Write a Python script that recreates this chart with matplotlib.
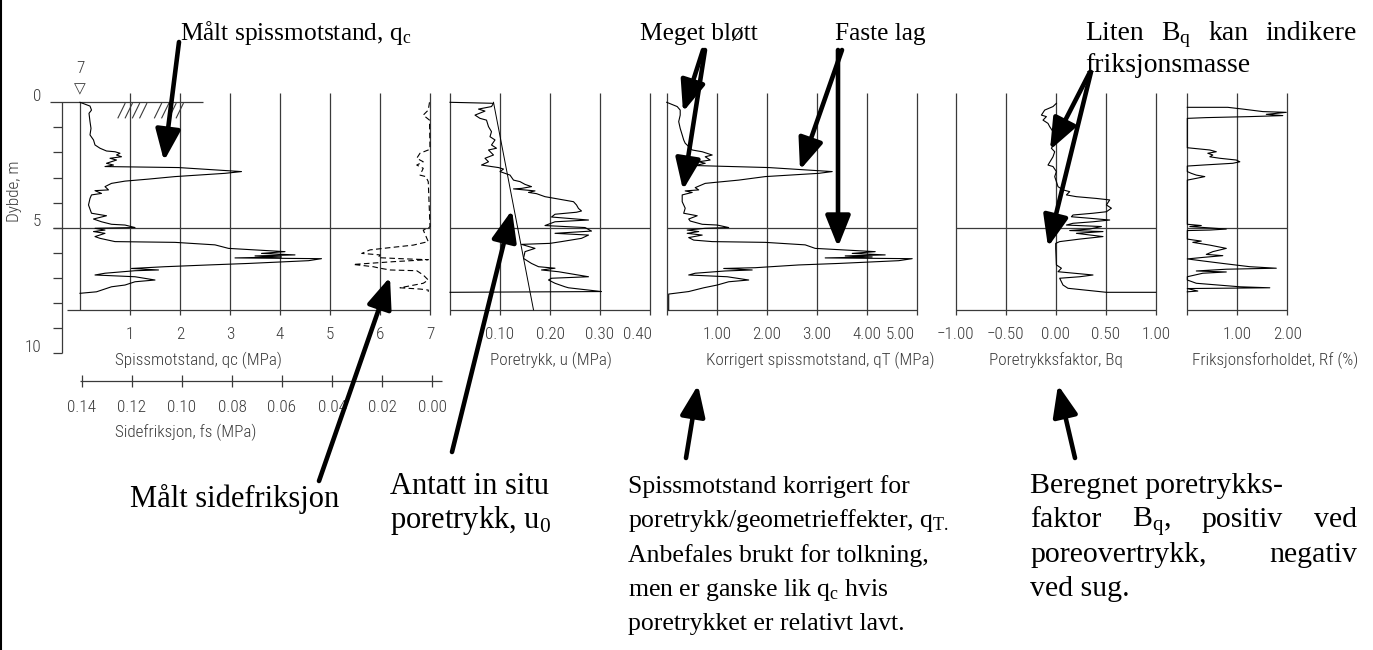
import matplotlib
matplotlib.use("Agg")
import matplotlib.pyplot as plt
from matplotlib import font_manager

# ---------------- data ----------------
QC_DEPTH = [0.00, 0.15, 0.31, 0.44, 0.77, 1.04, 1.30, 1.50, 1.70, 1.83, 1.94, 1.97, 2.03, 2.10, 2.17,
            2.23, 2.30, 2.43, 2.50, 2.56, 2.60, 2.76, 2.83, 2.96, 3.06, 3.14, 3.23, 3.36, 3.49, 3.52,
            3.63, 3.69, 3.83, 4.09, 4.42, 4.52, 4.65, 4.76, 4.86, 4.89, 4.99, 5.02, 5.09, 5.15, 5.22,
            5.35, 5.42, 5.55, 5.58, 5.68, 5.82, 5.95, 6.02, 6.08, 6.12, 6.16, 6.20, 6.23, 6.31, 6.42,
            6.48, 6.55, 6.62, 6.68, 6.71, 6.81, 6.88, 6.95, 7.08, 7.15, 7.28, 7.35, 7.55, 7.61]
QC_MPA = [0.00, 0.20, 0.23, 0.18, 0.20, 0.22, 0.20, 0.27, 0.30, 0.40, 0.53, 0.70, 0.80, 0.73, 0.83,
          0.60, 0.73, 0.53, 0.67, 0.50, 1.97, 3.23, 2.90, 1.90, 1.37, 0.90, 0.63, 0.50, 0.57, 0.30,
          0.43, 0.23, 0.20, 0.17, 0.23, 0.53, 0.27, 0.43, 0.63, 0.90, 1.10, 0.30, 0.50, 0.27, 0.50,
          0.30, 0.40, 0.70, 1.90, 2.70, 2.97, 4.10, 3.63, 4.30, 3.50, 4.03, 3.10, 4.83, 4.57, 3.37,
          2.57, 1.70, 1.03, 1.57, 1.10, 0.50, 0.30, 1.10, 1.50, 1.10, 0.90, 0.63, 0.33, 0.00]

FS_DEPTH = [0.00, 0.31, 0.51, 0.71, 1.85, 1.90, 2.03, 2.23, 2.37, 2.50, 2.63, 2.90, 2.96, 3.16, 4.95,
            5.02, 5.09, 5.55, 5.69, 5.79, 5.88, 6.02, 6.08, 6.19, 6.24, 6.27, 6.35, 6.46, 6.55, 6.61,
            6.68, 6.71, 6.88, 7.08, 7.21, 7.39, 7.44, 7.48, 7.55]
FS_MPA = [0.0010, 0.0015, 0.0035, 0.0010, 0.0008, 0.0015, 0.0048, 0.0061, 0.0035, 0.0061, 0.0035,
          0.0048, 0.0025, 0.0015, 0.0008, 0.0015, 0.0035, 0.0015, 0.0075, 0.0168, 0.0248, 0.0281,
          0.0208, 0.0215, 0.0101, 0.0015, 0.0155, 0.0315, 0.0235, 0.0208, 0.0168, 0.0061, 0.0035,
          0.0015, 0.0035, 0.0128, 0.0048, 0.0015, 0.0015]

U_DEPTH = [0.00, 0.04, 0.17, 0.27, 0.35, 0.51, 0.64, 0.71, 0.97, 1.17, 1.37, 1.50, 1.70, 1.83, 1.90,
           2.10, 2.23, 2.37, 2.50, 2.56, 2.60, 2.66, 2.76, 2.83, 2.90, 3.10, 3.16, 3.27, 3.36, 3.43,
           3.45, 3.53, 3.59, 3.64, 3.76, 3.83, 3.96, 4.09, 4.23, 4.33, 4.38, 4.46, 4.57, 4.69, 4.76,
           4.91, 4.99, 5.13, 5.22, 5.29, 5.42, 5.55, 5.62, 5.66, 5.82, 5.95, 6.22, 6.42, 6.55, 6.61,
           6.68, 6.75, 6.95, 7.01, 7.08, 7.21, 7.35, 7.39, 7.54, 7.57]
U_MPA = [0.000, 0.087, 0.083, 0.057, 0.070, 0.050, 0.060, 0.073, 0.077, 0.083, 0.080, 0.090, 0.083,
         0.093, 0.077, 0.087, 0.070, 0.077, 0.063, 0.083, 0.097, 0.107, 0.100, 0.110, 0.120, 0.127,
         0.140, 0.150, 0.163, 0.143, 0.127, 0.170, 0.157, 0.173, 0.190, 0.210, 0.247, 0.253, 0.257,
         0.263, 0.253, 0.210, 0.203, 0.277, 0.210, 0.190, 0.270, 0.283, 0.210, 0.277, 0.263, 0.223,
         0.200, 0.143, 0.170, 0.150, 0.147, 0.163, 0.177, 0.210, 0.183, 0.217, 0.277, 0.203, 0.197,
         0.210, 0.230, 0.237, 0.303, 0.000]

U0_DEPTH = [0.00, 8.27]
U0_MPA = [0.087, 0.167]

QT_DEPTH = [0.00, 0.17, 0.31, 0.51, 0.77, 1.04, 1.30, 1.50, 1.63, 1.90, 1.97, 2.10, 2.17, 2.30, 2.37,
            2.43, 2.52, 2.60, 2.76, 2.83, 2.96, 3.10, 3.19, 3.23, 3.40, 3.49, 3.53, 3.59, 3.69, 3.96,
            4.22, 4.42, 4.52, 4.65, 4.73, 4.86, 4.89, 4.99, 5.02, 5.09, 5.15, 5.22, 5.29, 5.39, 5.49,
            5.55, 5.58, 5.68, 5.82, 5.95, 6.02, 6.08, 6.12, 6.16, 6.20, 6.23, 6.31, 6.42, 6.48, 6.59,
            6.62, 6.68, 6.72, 6.81, 6.88, 6.95, 7.08, 7.15, 7.28, 7.39, 7.54, 7.64, 8.27]
QT_MPA = [0.00, 0.21, 0.27, 0.27, 0.24, 0.27, 0.31, 0.34, 0.37, 0.51, 0.71, 0.91, 0.77, 0.87, 0.64,
          0.77, 0.57, 2.04, 3.31, 3.04, 1.97, 1.44, 0.97, 0.77, 0.57, 0.64, 0.37, 0.51, 0.31, 0.31,
          0.37, 0.34, 0.61, 0.44, 0.47, 0.71, 1.01, 1.24, 0.77, 0.41, 0.64, 0.41, 0.71, 0.44, 0.54,
          0.91, 1.97, 2.77, 2.97, 4.17, 3.71, 4.37, 3.57, 4.11, 3.17, 4.91, 4.64, 3.44, 2.64, 1.77,
          1.14, 1.71, 1.17, 0.57, 0.44, 1.21, 1.64, 1.24, 1.01, 0.74, 0.44, 0.04, 0.04]

BQ_DEPTH = [0.04, 0.17, 0.31, 0.51, 0.57, 0.71, 0.84, 0.97, 1.17, 1.44, 1.63, 1.83, 1.97, 2.17, 2.50,
            2.56, 2.76, 2.96, 3.16, 3.36, 3.49, 3.56, 3.69, 3.76, 3.83, 3.89, 4.09, 4.22, 4.36, 4.42,
            4.49, 4.56, 4.62, 4.69, 4.76, 4.82, 4.89, 4.95, 5.05, 5.11, 5.15, 5.22, 5.35, 5.45, 5.55,
            5.62, 5.82, 6.48, 6.61, 6.75, 6.88, 6.95, 7.01, 7.28, 7.41, 7.57, 7.57]
BQ = [0.007, -0.027, -0.110, -0.143, -0.093, -0.127, -0.077, -0.060, -0.027, -0.027, -0.010, -0.043,
      -0.010, -0.027, -0.077, -0.027, 0.007, -0.010, 0.007, 0.023, 0.073, 0.140, 0.107, 0.207, 0.407,
      0.540, 0.507, 0.557, 0.507, 0.373, 0.173, 0.157, 0.340, 0.540, 0.373, 0.173, 0.107, 0.457,
      0.340, 0.140, 0.473, 0.207, 0.473, 0.240, 0.040, 0.000, 0.000, 0.007, 0.057, 0.023, 0.373,
      0.240, 0.040, 0.073, 0.123, 0.507, 1.000]

RF_DEPTH = [0.20, 0.20, 0.27, 0.37, 0.40, 0.48, 0.53, 0.57, 0.61, 0.64, 1.81, 1.90, 1.97, 2.03, 2.10,
            2.17, 2.23, 2.30, 2.37, 2.43, 2.50, 2.54, 2.76, 2.83, 2.90, 2.96, 3.03, 3.10, 4.86, 4.91,
            4.95, 5.05, 5.09, 5.11, 5.45, 5.53, 5.58, 5.69, 5.82, 5.95, 6.06, 6.11, 6.18, 6.24, 6.32,
            6.42, 6.55, 6.61, 6.65, 6.72, 6.76, 6.81, 6.95, 7.08, 7.21, 7.35, 7.39, 7.41, 7.42, 7.52,
            7.55]
RF_PCT = [0.00, 0.81, 1.11, 1.51, 1.98, 1.58, 1.91, 1.25, 0.38, 0.00, 0.00, 0.45, 0.58, 0.41, 0.51,
          0.45, 0.65, 0.98, 1.05, 0.91, 0.31, 0.00, 0.00, 0.08, 0.18, 0.35, 0.18, 0.00, 0.00, 0.28,
          0.05, 0.78, 0.45, 0.00, 0.00, 0.28, 0.11, 0.45, 0.78, 0.51, 0.38, 0.71, 0.31, 0.00, 0.31,
          0.71, 1.25, 1.78, 0.78, 0.18, 0.78, 0.31, 0.00, 0.00, 0.18, 1.05, 1.65, 0.58, 0.00, 0.21,
          0.00]

QC_TICKS = [1, 2, 3, 4, 5, 6, 7]
FS_TICKS = [0.14, 0.12, 0.10, 0.08, 0.06, 0.04, 0.02, 0.00]
U_TICKS = [0.10, 0.20, 0.30, 0.40]
QT_TICKS = [1.00, 2.00, 3.00, 4.00, 5.00]
BQ_TICKS = [-1.00, -0.50, 0.00, 0.50, 1.00]
RF_TICKS = [1.00, 2.00]
DEPTH_LABELS = [0, 5, 10]

# ---------------- styling / layout ----------------
W, H = 1373, 650
Y0, PXM = 102.3, 25.1          # pixel of depth 0, pixels per metre
DT, DB = -1.5, 14.0             # depth range of every panel axes
GTOP, GBOT, BLINE = -0.37, 8.47, 8.27
GRID = "#3a3a3a"
GLW = 0.9
DLW = 0.8
TXT = "#3a3a3a"

plt.rcParams["mathtext.fontset"] = "custom"
plt.rcParams["mathtext.rm"] = "Liberation Serif"
plt.rcParams["mathtext.it"] = "Liberation Serif:italic"

names = {f.name for f in font_manager.fontManager.ttflist}
CAD = next((n for n in ["Liberation Sans Narrow", "Roboto Condensed", "Roboto"] if n in names), "DejaVu Sans")
SERIF = "Liberation Serif"
CADSZ = 12.3
SZ_TOP = 18.3
SZ_TOPR = 20.0
SZ_MID = 18.5
SZ_LEFT = 22.0
SZ_RIGHT = 21.5

fig = plt.figure(figsize=(W / 100, H / 100), dpi=100)


def dpx(d):
    return Y0 + d * PXM


def panel(xp0, v0, xp1, v1):
    yt, yb = dpx(DT), dpx(DB)
    ax = fig.add_axes([xp0 / W, 1 - yb / H, (xp1 - xp0) / W, (yb - yt) / H])
    ax.set_xlim(v0, v1)
    ax.set_ylim(DB, DT)
    ax.axis("off")
    return ax


def label(ax, x, y, s, **kw):
    ax.text(x, y, s, ha="center", va="center", family=CAD, fontsize=CADSZ, color=TXT,
            fontweight="light", **kw)


def ticklabels(ax, ticks, fmt, depth=9.27, xs=None):
    for i, t in enumerate(ticks):
        x = t if xs is None else xs[i]
        label(ax, x, depth, fmt.format(t).replace("-", "\u2212"))


# ---- panel 1 : qc and fs ----
ax1 = panel(80, 0, 430, 7)
ax1.vlines(QC_TICKS, GTOP, GBOT, color=GRID, lw=GLW, clip_on=False)
ax1.vlines(0, 0, BLINE, color=GRID, lw=GLW, clip_on=False)
ax1.hlines(5.0, -0.54, 7, color=GRID, lw=GLW, clip_on=False)
ax1.hlines(BLINE, -0.26, 7, color=GRID, lw=GLW, clip_on=False)
ax1.hlines(0.0, -0.6, 2.46, color=GRID, lw=GLW, clip_on=False)
# depth axis
ax1.vlines(-0.37, 0, 10, color=GRID, lw=GLW, clip_on=False)
ax1.hlines(list(range(1, 11)), -0.54, -0.37, color=GRID, lw=GLW, clip_on=False)
for d in DEPTH_LABELS:
    label(ax1, -0.86 - (0.08 if d >= 10 else 0), d - 0.25, str(d))
label(ax1, -1.3, 3.55, "Dybde, m", rotation=90)
ticklabels(ax1, QC_TICKS, "{:d}")
label(ax1, 2.36, 10.27, "Spissmotstand, qc (MPa)")
ax1.plot(QC_MPA, QC_DEPTH, color="black", lw=DLW, clip_on=False)
# ground surface hatch and water table symbol
for k in range(8):
    q = 0.76 + k * 0.145 + (0.15 if k >= 4 else 0)
    ax1.plot([q, q + 0.14], [0.62, 0.05], color=GRID, lw=0.8)
ax1.text(0.0, -0.55, "\u25BD", ha="center", va="center", fontsize=11, color=TXT, family="DejaVu Sans")
label(ax1, 0.0, -1.35, "7")

ax1b = panel(82, 0.14, 432, 0.0)
ax1b.hlines(11.1, 0.141, -0.004, color=GRID, lw=GLW, clip_on=False)
ax1b.vlines(FS_TICKS, 10.86, 11.34, color=GRID, lw=GLW, clip_on=False)
ticklabels(ax1b, FS_TICKS, "{:.2f}", depth=12.14)
label(ax1b, 0.0984, 13.17, "Sidefriksjon, fs (MPa)")
ax1b.plot(FS_MPA, FS_DEPTH, color="black", lw=DLW, ls=(0, (5, 3)), clip_on=False)

# ---- panel 2 : u ----
ax2 = panel(450, 0, 650, 0.4)
ax2.vlines([0.0] + U_TICKS, GTOP, GBOT, color=GRID, lw=GLW, clip_on=False)
ax2.hlines([5.0, BLINE], 0, 0.4, color=GRID, lw=GLW, clip_on=False)
ticklabels(ax2, U_TICKS, "{:.2f}", xs=[0.1, 0.2, 0.3, 0.375])
label(ax2, 0.202, 10.27, "Poretrykk, u (MPa)")
ax2.plot(U_MPA, U_DEPTH, color="black", lw=DLW, clip_on=False)
ax2.plot(U0_MPA, U0_DEPTH, color="black", lw=0.7, clip_on=False)

# ---- panel 3 : qT ----
ax3 = panel(666.7, 0, 916.7, 5)
ax3.vlines([0.0] + QT_TICKS, GTOP, GBOT, color=GRID, lw=GLW, clip_on=False)
ax3.hlines([5.0, BLINE], 0, 5, color=GRID, lw=GLW, clip_on=False)
ticklabels(ax3, QT_TICKS, "{:.2f}", xs=[1, 2, 3, 4, 4.67])
label(ax3, 3.07, 10.27, "Korrigert spissmotstand, qT (MPa)")
ax3.plot(QT_MPA, QT_DEPTH, color="black", lw=DLW, clip_on=False)

# ---- panel 4 : Bq ----
ax4 = panel(955.7, -1, 1155.7, 1)
ax4.vlines(BQ_TICKS, GTOP, GBOT, color=GRID, lw=GLW, clip_on=False)
ax4.hlines([5.0, BLINE], -1, 1, color=GRID, lw=GLW, clip_on=False)
ticklabels(ax4, BQ_TICKS, "{:.2f}")
label(ax4, 0.0, 10.27, "Poretrykksfaktor, Bq")
ax4.plot(BQ, BQ_DEPTH, color="black", lw=DLW, clip_on=False)

# ---- panel 5 : Rf ----
ax5 = panel(1187.3, 0, 1287.3, 2)
ax5.vlines([0.0] + RF_TICKS, GTOP, GBOT, color=GRID, lw=GLW, clip_on=False)
ax5.hlines([5.0, BLINE], 0, 2, color=GRID, lw=GLW, clip_on=False)
ticklabels(ax5, RF_TICKS, "{:.2f}")
label(ax5, 1.75, 10.27, "Friksjonsforholdet, Rf (%)")
ax5.plot(RF_PCT, RF_DEPTH, color="black", lw=DLW, clip_on=False)

# ---------------- annotation overlay (pixel coordinates) ----------------
ov = fig.add_axes([0, 0, 1, 1])
ov.set_xlim(0, W)
ov.set_ylim(H, 0)
ov.axis("off")
ov.patch.set_visible(False)
ov.vlines(0.8, 0, H, color="black", lw=1.5)
renderer = fig.canvas.get_renderer()


def note(x, y, s, size):
    ov.text(x, y, s, ha="left", va="baseline", family=SERIF, fontsize=size, color="black")


def justified(x0, x1, y, words, size):
    ts = [ov.text(x0, y, w, ha="left", va="baseline", family=SERIF, fontsize=size, color="black")
          for w in words]
    ws = [t.get_window_extent(renderer).width for t in ts]
    gap = (x1 - x0 - sum(ws)) / (len(ws) - 1)
    x = x0
    for t, w in zip(ts, ws):
        t.set_x(x)
        x += w + gap


# top notes
note(180, 40, "Målt spissmotstand, q$_\\mathrm{c}$", SZ_TOP)
note(640, 40, "Meget bløtt", SZ_TOP)
note(835, 40, "Faste lag", SZ_TOP)
justified(1085, 1357, 40, ["Liten", "B$_\\mathrm{q}$", "kan", "indikere"], SZ_TOPR)
note(1085, 72, "friksjonsmasse", SZ_TOPR)

# bottom-left notes
note(130, 507, "Målt sidefriksjon", SZ_LEFT)
note(390, 494, "Antatt in situ", SZ_LEFT)
note(390, 528, "poretrykk, u$_\\mathrm{0}$", SZ_LEFT)

# middle block
for i, s in enumerate(["Spissmotstand korrigert for",
                       "poretrykk/geometrieffekter, q$_\\mathrm{T.}$",
                       "Anbefales brukt for tolkning,",
                       "men er ganske lik q$_\\mathrm{c}$ hvis",
                       "poretrykket er relativt lavt."]):
    note(628, 493 + i * 34.3, s, SZ_MID)

# right block
note(1030, 493, "Beregnet poretrykks-", SZ_RIGHT)
justified(1030, 1357, 527.3, ["faktor", "B$_\\mathrm{q}$,", "positiv", "ved"], SZ_RIGHT)
justified(1030, 1357, 561.6, ["poreovertrykk,", "negativ"], SZ_RIGHT)
note(1030, 596, "ved sug.", SZ_RIGHT)

arrows = [
    ((179, 42), (164, 161)),
    ((319, 481), (390, 277)),
    ((452, 452), (512, 210)),
    ((703, 50), (683, 112)),
    ((705, 50), (683, 190)),
    ((842, 50), (800, 170)),
    ((838, 50), (838, 247)),
    ((1090, 72), (1050, 150)),
    ((1091, 72), (1048, 247)),
    ((686, 458), (698, 385)),
    ((1075, 458), (1058, 385)),
]
for tail, tip in arrows:
    ov.annotate("", xy=tip, xytext=tail, xycoords="data", textcoords="data",
                arrowprops=dict(arrowstyle="-|>,head_length=1.05,head_width=0.42", lw=3.3,
                                color="black", shrinkA=0, shrinkB=0, mutation_scale=18))

fig.savefig("out.png", dpi=100)
